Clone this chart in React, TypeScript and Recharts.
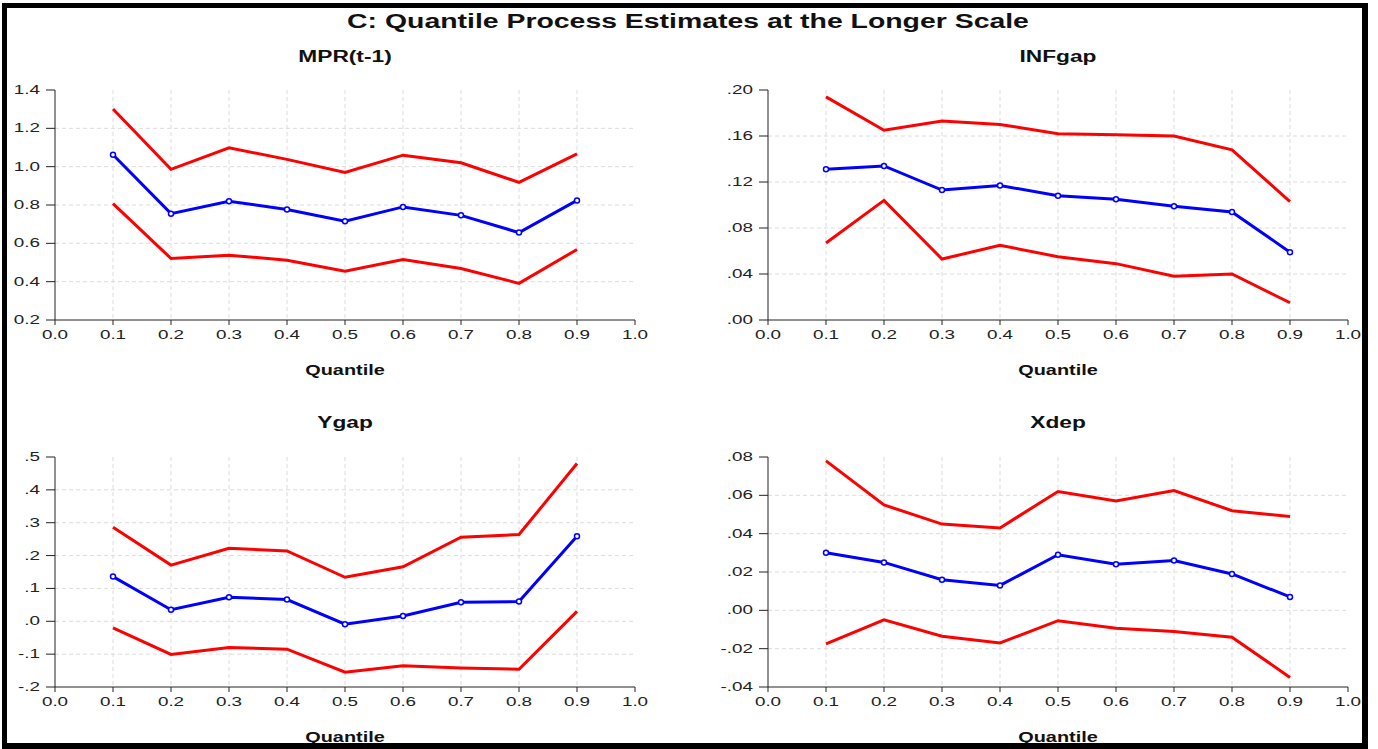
import { LineChart, Line, XAxis, YAxis, CartesianGrid } from 'recharts';

const quantiles = [0.1, 0.2, 0.3, 0.4, 0.5, 0.6, 0.7, 0.8, 0.9];
const xTicks = [0, 0.1, 0.2, 0.3, 0.4, 0.5, 0.6, 0.7, 0.8, 0.9, 1.0];

const mprUpper = [1.301, 0.986, 1.098, 1.038, 0.97, 1.06, 1.02, 0.918, 1.067];
const mprEst = [1.062, 0.755, 0.819, 0.777, 0.715, 0.79, 0.746, 0.656, 0.824];
const mprLower = [0.807, 0.521, 0.538, 0.512, 0.455, 0.516, 0.469, 0.391, 0.568];

const infUpper = [0.194, 0.165, 0.173, 0.17, 0.162, 0.161, 0.16, 0.148, 0.103];
const infEst = [0.131, 0.134, 0.113, 0.117, 0.108, 0.105, 0.099, 0.094, 0.059];
const infLower = [0.067, 0.104, 0.053, 0.065, 0.055, 0.049, 0.038, 0.04, 0.015];

const ygapUpper = [0.286, 0.171, 0.222, 0.214, 0.134, 0.166, 0.256, 0.264, 0.48];
const ygapEst = [0.136, 0.035, 0.073, 0.066, -0.009, 0.016, 0.058, 0.06, 0.259];
const ygapLower = [-0.02, -0.101, -0.08, -0.085, -0.155, -0.135, -0.142, -0.146, 0.03];

const xdepUpper = [0.078, 0.055, 0.045, 0.043, 0.062, 0.057, 0.0625, 0.052, 0.049];
const xdepEst = [0.03, 0.025, 0.016, 0.013, 0.029, 0.024, 0.026, 0.019, 0.007];
const xdepLower = [-0.0175, -0.005, -0.0135, -0.017, -0.0054, -0.0094, -0.011, -0.014, -0.035];

const FONT = '"Liberation Sans", Arial, Helvetica, sans-serif';
const STRETCH = 1.45;

// eviews style labels: ".20", "-.1"
const noLead = (d: number) => (v: number) => v.toFixed(d).replace(/^(-?)0\./, '$1.');

const rows = (upper: number[], est: number[], lower: number[]) =>
  quantiles.map((q, i) => ({ q, upper: upper[i], est: est[i], lower: lower[i] }));

const XTick = ({ x, y, payload }: any) => (
  <g transform={`translate(${x},${y})`}>
    <text textAnchor="middle" dy={12} transform={`scale(${STRETCH},1)`} fill="#222" fontSize={13} fontFamily={FONT}>
      {Number(payload.value).toFixed(1)}
    </text>
  </g>
);

const YTick = ({ x, y, payload, fmt }: any) => (
  <g transform={`translate(${x},${y})`}>
    <text textAnchor="end" dy={4} transform={`scale(${STRETCH},1)`} fill="#222" fontSize={13} fontFamily={FONT}>
      {fmt(payload.value)}
    </text>
  </g>
);

function Label({ text, cx, cy, size }: { text: string; cx: number; cy: number; size: number }) {
  return (
    <div
      style={{
        position: 'absolute',
        left: cx,
        top: cy,
        transform: 'translate(-50%,-50%) scaleX(1.42)',
        fontFamily: FONT,
        fontWeight: 'bold',
        fontSize: size,
        whiteSpace: 'nowrap',
        color: '#111',
        lineHeight: 1,
      }}
    >
      {text}
    </div>
  );
}

interface PanelProps {
  data: any[];
  left: number;
  top: number;
  domain: [number, number];
  yTicks: number[];
  fmt: (v: number) => string;
}

function Panel({ data, left, top, domain, yTicks, fmt }: PanelProps) {
  return (
    <div style={{ position: 'absolute', left, top }}>
      <LineChart width={655} height={270} data={data} margin={{ top: 10, right: 20, left: 10, bottom: 0 }}>
        <CartesianGrid
          stroke="#dcdcdc"
          strokeDasharray="4 3"
          horizontalValues={yTicks.slice(1, -1)}
          verticalValues={quantiles}
        />
        <XAxis
          type="number"
          dataKey="q"
          domain={[0, 1]}
          ticks={xTicks}
          height={30}
          stroke="#222"
          tickSize={5}
          tickMargin={2}
          tick={(p: any) => <XTick {...p} />}
          interval={0}
        />
        <YAxis
          type="number"
          domain={domain}
          ticks={yTicks}
          width={45}
          stroke="#222"
          tickSize={9}
          tickMargin={6}
          tick={(p: any) => <YTick {...p} fmt={fmt} />}
          interval={0}
          allowDataOverflow
        />
        <Line dataKey="upper" stroke="#ff0000" strokeWidth={3} dot={false} isAnimationActive={false} />
        <Line dataKey="lower" stroke="#ff0000" strokeWidth={3} dot={false} isAnimationActive={false} />
        <Line
          dataKey="est"
          stroke="#0000ff"
          strokeWidth={3}
          dot={{ r: 2.5, fill: '#fff', stroke: '#0000ff', strokeWidth: 1.5 }}
          isAnimationActive={false}
        />
      </LineChart>
    </div>
  );
}

export default function App() {
  return (
    <div style={{ position: 'absolute', left: 0, top: 0, width: 1378, height: 749, background: '#fff', overflow: 'hidden' }}>
      <Label text="C: Quantile Process Estimates at the Longer Scale" cx={688} cy={21} size={20} />

      <Label text="MPR(t-1)" cx={345} cy={57} size={16} />
      <Panel
        data={rows(mprUpper, mprEst, mprLower)}
        left={0}
        top={80}
        domain={[0.2, 1.4]}
        yTicks={[0.2, 0.4, 0.6, 0.8, 1.0, 1.2, 1.4]}
        fmt={(v) => v.toFixed(1)}
      />
      <Label text="Quantile" cx={345} cy={370} size={14} />

      <Label text="INFgap" cx={1058} cy={57} size={16} />
      <Panel
        data={rows(infUpper, infEst, infLower)}
        left={713}
        top={80}
        domain={[0, 0.2]}
        yTicks={[0, 0.04, 0.08, 0.12, 0.16, 0.2]}
        fmt={noLead(2)}
      />
      <Label text="Quantile" cx={1058} cy={370} size={14} />

      <Label text="Ygap" cx={345} cy={423} size={16} />
      <Panel
        data={rows(ygapUpper, ygapEst, ygapLower)}
        left={0}
        top={447}
        domain={[-0.2, 0.5]}
        yTicks={[-0.2, -0.1, 0, 0.1, 0.2, 0.3, 0.4, 0.5]}
        fmt={noLead(1)}
      />
      <Label text="Quantile" cx={345} cy={737} size={14} />

      <Label text="Xdep" cx={1058} cy={423} size={16} />
      <Panel
        data={rows(xdepUpper, xdepEst, xdepLower)}
        left={713}
        top={447}
        domain={[-0.04, 0.08]}
        yTicks={[-0.04, -0.02, 0, 0.02, 0.04, 0.06, 0.08]}
        fmt={noLead(2)}
      />
      <Label text="Quantile" cx={1058} cy={737} size={14} />

      {/* heavy frame drawn over the charts, it clips the right "1.0" labels like the original */}
      <div
        style={{
          position: 'absolute',
          left: 2,
          top: 3,
          width: 1366,
          height: 746,
          boxSizing: 'border-box',
          borderTop: '5px solid #000',
          borderLeft: '5px solid #000',
          borderRight: '6px solid #000',
          borderBottom: '6px solid #000',
          pointerEvents: 'none',
        }}
      />
      <div style={{ position: 'absolute', left: 1368, top: 0, width: 10, height: 749, background: '#fff' }} />
    </div>
  );
}
